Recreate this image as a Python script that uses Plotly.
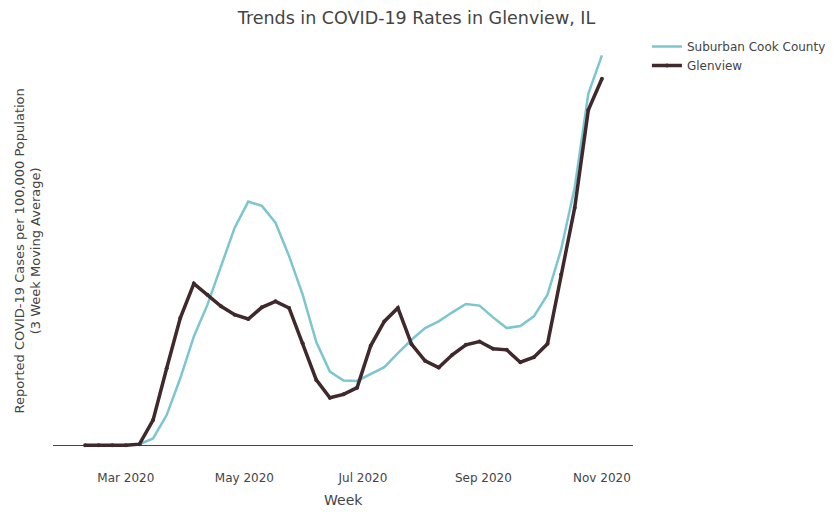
import pandas as pd
import plotly.graph_objects as go

weeks = pd.date_range("2020-02-09", periods=39, freq="7D")

# values (arbitrary units, zero = baseline)
suburban_px = [0, 0, 0, 0, 3, 20, 90, 200, 325, 420, 535, 650, 728, 715, 665,
               565, 450, 308, 220, 193, 192, 212, 233, 275, 315, 350, 370,
               397, 422, 417, 382, 350, 356, 385, 450, 585, 770, 1050, 1165]
glenview_px = [0, 0, 0, 0, 3, 75, 230, 380, 483, 450, 415, 390, 377, 412, 430,
               410, 305, 195, 142, 152, 172, 297, 370, 410, 302, 252, 232,
               270, 300, 310, 288, 285, 248, 263, 303, 510, 710, 1002, 1095]

scale = 2.33
suburban = [round(v / scale, 1) for v in suburban_px]
glenview = [round(v / scale, 1) for v in glenview_px]

fig = go.Figure()
fig.add_trace(go.Scatter(x=weeks, y=suburban, mode="lines", name="Suburban Cook County",
                         line=dict(color="#7cc6cf", width=2.5)))
fig.add_trace(go.Scatter(x=weeks, y=glenview, mode="lines+markers", name="Glenview",
                         line=dict(color="#3f292d", width=3.5),
                         marker=dict(size=4, color="#3f292d")))

fig.add_annotation(
    text="Reported COVID-19 Cases per 100,000 Population<br>(3 Week Moving Average)",
    textangle=-90, x=0, y=0.5, xref="paper", yref="paper",
    xanchor="right", yanchor="middle", xshift=-8, yshift=-2, showarrow=False,
    font=dict(size=13, color="#444"),
)
fig.add_annotation(
    text="Week", x=0.5, y=0, xref="paper", yref="paper",
    xanchor="center", yanchor="middle", yshift=-33, showarrow=False,
    font=dict(size=14, color="#444"),
)

fig.update_layout(
    width=817, height=513,
    margin=dict(l=45, r=192, t=24, b=54, autoexpand=False),
    paper_bgcolor="white", plot_bgcolor="white",
    font=dict(family="Verdana, DejaVu Sans, sans-serif", size=12, color="#444"),
    title=dict(text="Trends in COVID-19 Rates in Glenview, IL", x=0.5, y=0.993,
               yref="container", yanchor="top", font=dict(size=17.5, color="#444")),
    legend=dict(x=1.024, y=1.0, font=dict(size=12)),
    xaxis=dict(range=[pd.Timestamp("2020-01-23 12:00"), pd.Timestamp("2020-11-17")],
               showgrid=False, zeroline=False, showline=False, automargin=False,
               dtick="M2", tickformat="%b %Y", ticks="", ticklabelstandoff=2),
    yaxis=dict(range=[-28, 530],
               showticklabels=False, showgrid=False, zeroline=True, automargin=False,
               zerolinecolor="#444", zerolinewidth=1, ticks=""),
)

fig.write_html("out.html")
